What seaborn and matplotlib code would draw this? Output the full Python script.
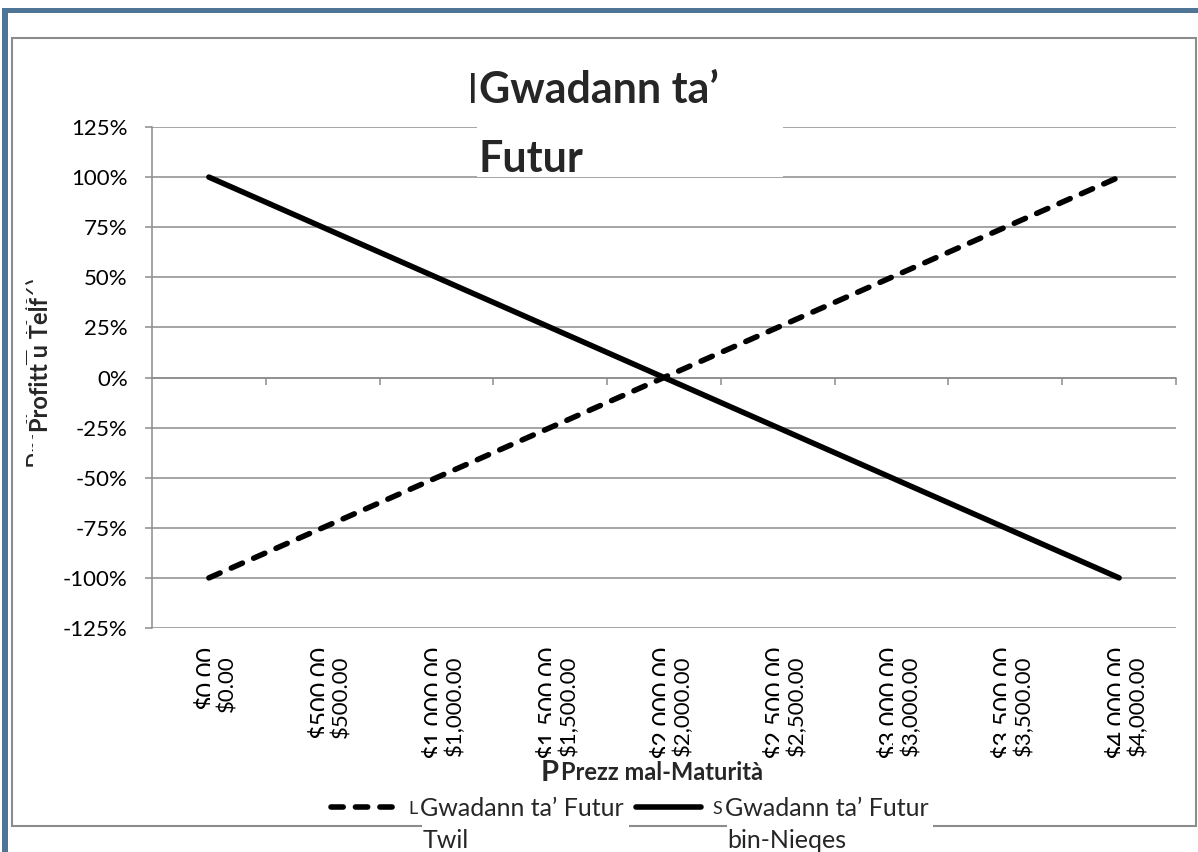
import matplotlib
matplotlib.use("Agg")
import matplotlib.pyplot as plt
import matplotlib.patches as mpatches
import matplotlib.transforms as mtransforms
import pandas as pd
import seaborn as sns

# ---------------- data ----------------
prices = [0, 500, 1000, 1500, 2000, 2500, 3000, 3500, 4000]
price_labels = ["$0.00", "$500.00", "$1,000.00", "$1,500.00", "$2,000.00",
                "$2,500.00", "$3,000.00", "$3,500.00", "$4,000.00"]
long_pl = [-1.00, -0.75, -0.50, -0.25, 0.00, 0.25, 0.50, 0.75, 1.00]
short_pl = [1.00, 0.75, 0.50, 0.25, 0.00, -0.25, -0.50, -0.75, -1.00]
y_ticks = [-1.25, -1.00, -0.75, -0.50, -0.25, 0.00, 0.25, 0.50, 0.75, 1.00, 1.25]
y_tick_labels = ["-125%", "-100%", "-75%", "-50%", "-25%", "0%",
                 "25%", "50%", "75%", "100%", "125%"]
title_lines = ["Gwadann ta\u2019", "Futur"]
y_title = "Profitt u Telf"
y_title_hidden = "Profitt u Telf (%)"
x_title = "Prezz mal-Maturit\u00e0"
series_names = ["Gwadann ta\u2019 Futur\nTwil", "Gwadann ta\u2019 Futur\nbin-Nieqes"]
series_initials = ["L", "S"]

# ---------------- style ----------------
sns.set_theme(style="white")
plt.rcParams["font.family"] = ["Lato", "DejaVu Sans"]

W, H = 1198, 852
GRID = "#8c8c8c"
BLUE = "#4f7596"


def fx(x):
    return x / W


def fy(y):
    return 1 - y / H


fig = plt.figure(figsize=(W / 100, H / 100), dpi=100)
fig.patch.set_facecolor("white")

# frame decorations
fig.add_artist(mpatches.Rectangle((fx(2), fy(13)), fx(1198) - fx(2), 5 / H,
                                  transform=fig.transFigure, fc=BLUE, ec="none", zorder=-2))
fig.add_artist(mpatches.Rectangle((fx(2), 0), 6 / W, fy(8),
                                  transform=fig.transFigure, fc=BLUE, ec="none", zorder=-2))
fig.add_artist(mpatches.Rectangle((fx(12), fy(826)), (1196 - 12) / W, (826 - 38) / H,
                                  transform=fig.transFigure, fc="none", ec=GRID, lw=1.5, zorder=-2))

# ---------------- axes ----------------
left, right, top, bottom = 152, 1176, 127, 628
ax = fig.add_axes([fx(left), fy(bottom), (right - left) / W, (bottom - top) / H])
ax.set_facecolor("white")

x_idx = list(range(len(prices)))
df = pd.DataFrame({"idx": x_idx, "long": long_pl, "short": short_pl})

sns.lineplot(data=df, x="idx", y="long", ax=ax, color="black", lw=4,
             linestyle=(0, (2.2, 2.2)), dash_capstyle="round", solid_capstyle="round")
sns.lineplot(data=df, x="idx", y="short", ax=ax, color="black", lw=4,
             solid_capstyle="round")
lines = ax.get_lines()

ax.set_xlim(-0.5, len(prices) - 0.5)
ax.set_ylim(y_ticks[0], y_ticks[-1])
ax.set_yticks(y_ticks, labels=y_tick_labels)
ax.set_xticks(x_idx, labels=[""] * len(x_idx))
ax.tick_params(axis="y", labelsize=16, length=5, width=1.1, color=GRID, pad=12.5,
               labelcolor="black", left=True)
ax.tick_params(axis="x", length=0)
ax.yaxis.grid(True, color=GRID, lw=1.1)
ax.xaxis.grid(False)
for s in ["top", "right", "bottom"]:
    ax.spines[s].set_visible(False)
ax.spines["left"].set_color(GRID)
ax.spines["left"].set_linewidth(1.1)

# horizontal category axis crossing at 0 with boundary ticks
frac0 = (0 - y_ticks[0]) / (y_ticks[-1] - y_ticks[0])
sec = ax.secondary_xaxis(frac0 - 1e-4)
sec.set_xticks([i + 0.5 for i in x_idx])
sec.tick_params(axis="x", length=5, width=1.1, color=GRID, direction="out",
                labelbottom=False, labeltop=False)
for s in sec.spines.values():
    s.set_color(GRID)
    s.set_linewidth(1.1)

# category labels (clipped larger ones behind, smaller ones in front)
tr_x = mtransforms.blended_transform_factory(ax.transData, ax.transAxes)
big_off = mtransforms.ScaledTranslation(0.05, 0, fig.dpi_scale_trans)
cut_off = mtransforms.ScaledTranslation(0.01, 0, fig.dpi_scale_trans)
small_off = mtransforms.ScaledTranslation(0.25, 0, fig.dpi_scale_trans)
for i, lab in zip(x_idx, price_labels):
    tb = ax.text(i, (bottom - 645) / (bottom - top), lab, transform=tr_x + big_off,
                 rotation=90, rotation_mode="anchor", ha="right", va="baseline",
                 fontsize=18, color="black", zorder=0.1)
    tb.set_clip_on(True)
    tb.set_clip_path(mpatches.Rectangle((i - 0.5, -0.4), 0.5, 0.4,
                                        transform=tr_x + cut_off))
    ax.text(i, (bottom - 655) / (bottom - top), lab, transform=tr_x + small_off,
            rotation=90, rotation_mode="anchor", ha="right", va="baseline",
            fontsize=16, color="black", zorder=0.2, clip_on=False)

# axis titles
ax.set_xlabel(x_title, fontsize=17, fontweight="bold",
              bbox=dict(fc="white", ec="none", pad=1.5))
ax.xaxis.set_label_coords((662 - left) / (right - left), (bottom - 773) / (bottom - top))
ax.xaxis.label.set_va("center")
fig.text(fx(541), fy(773), x_title[0], fontsize=21, fontweight="bold",
         ha="left", va="center", zorder=-0.5)

ax.set_ylabel(y_title, fontsize=17, fontweight="bold",
              bbox=dict(fc="white", ec="none", pad=1.5))
ax.yaxis.set_label_coords((41 - left) / (right - left), (bottom - 365) / (bottom - top))
ax.yaxis.label.set_va("center")
fig.text(fx(47), fy(373), y_title_hidden, fontsize=19, rotation=90,
         rotation_mode="anchor", ha="center", va="baseline", zorder=-0.5)
fig.add_artist(mpatches.Rectangle((fx(33), fy(500)), 30 / W, 260 / H,
                                  transform=fig.transFigure, fc="white", ec="none",
                                  zorder=-0.4))

# title in white box
fig.add_artist(mpatches.Rectangle((fx(477), fy(177)), (783 - 477) / W, (177 - 62) / H,
                                  transform=fig.transFigure, fc="white", ec="none", zorder=4))
fig.text(fx(468), fy(103), "l", fontsize=29, ha="left", va="baseline", zorder=5)
fig.text(fx(479), fy(103), title_lines[0], fontsize=31, fontweight="bold",
         ha="left", va="baseline", zorder=5)
fig.text(fx(479), fy(172), title_lines[1], fontsize=31, fontweight="bold",
         ha="left", va="baseline", zorder=5)

# legend
first_lines = [n.split("\n")[0] for n in series_names]
second_lines = [n.split("\n")[1] for n in series_names]
leg = ax.legend(handles=lines[:2], labels=first_lines, ncol=2, loc="center left",
                bbox_to_anchor=(fx(331), fy(808)), bbox_transform=fig.transFigure,
                frameon=False, fontsize=18, handlelength=2.6, handletextpad=0.96,
                columnspacing=0.48, borderpad=0, borderaxespad=0)

fig.canvas.draw()
for txt, init, second in zip(leg.get_texts(), series_initials, second_lines):
    bb = txt.get_window_extent()
    x0, x1 = bb.x0, bb.x1
    fig.add_artist(mpatches.Rectangle((x0 / W + 2 / W, 0), (x1 - x0 + 3) / W, fy(786),
                                      transform=fig.transFigure, fc="white", ec="none",
                                      zorder=-1))
    fig.text((x0 - 2) / W, bb.y1 / H - 4 / H, init, fontsize=13, ha="right", va="top",
             zorder=-0.5)
    fig.text(x0 / W + 3 / W, fy(840), second, fontsize=18, ha="left", va="center",
             zorder=-0.5)

fig.savefig("out.png", dpi=100, facecolor="white")
